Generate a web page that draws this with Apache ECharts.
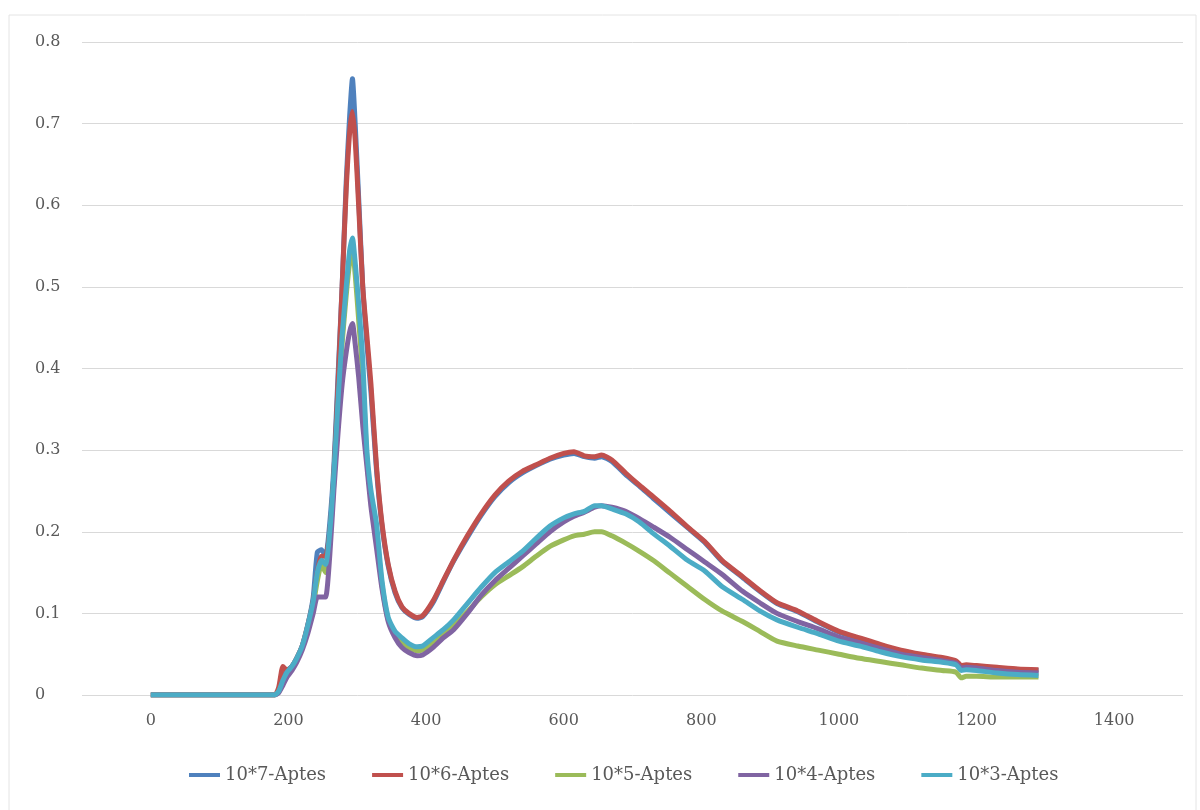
<!DOCTYPE html>
<html>
<head>
<meta charset="utf-8">
<title>Aptes absorbance spectra</title>
<script src="https://cdn.jsdelivr.net/npm/echarts@6/dist/echarts.min.js"></script>
<style>
  html, body { margin: 0; padding: 0; background: #ffffff; }
  #chart { width: 1200px; height: 810px; }
</style>
</head>
<body>
<div id="chart"></div>
<script>
// Wavelength sampling points shared by all five spectra
const wavelength = [0, 100, 180, 186, 192, 198, 205, 212, 220, 228, 236, 242, 248, 254, 260, 266, 272, 278, 284, 289, 293, 297, 302, 308, 314, 320, 328, 336, 345, 355, 365, 375, 387, 395, 410, 425, 440, 460, 480, 500, 520, 540, 560, 580, 600, 615, 630, 645, 655, 670, 690, 710, 730, 755, 780, 805, 830, 860, 885, 910, 940, 970, 1000, 1030, 1060, 1090, 1120, 1150, 1170, 1178, 1185, 1200, 1230, 1260, 1290];

const seriesNames = ['10*7-Aptes', '10*6-Aptes', '10*5-Aptes', '10*4-Aptes', '10*3-Aptes'];

const aptes7 = [0, 0, 0, 0.005, 0.02, 0.03, 0.035, 0.045, 0.06, 0.085, 0.12, 0.175, 0.178, 0.17, 0.21, 0.28, 0.39, 0.5, 0.63, 0.71, 0.755, 0.7, 0.61, 0.5, 0.43, 0.37, 0.275, 0.207, 0.158, 0.125, 0.107, 0.099, 0.094, 0.096, 0.113, 0.139, 0.164, 0.193, 0.22, 0.243, 0.26, 0.272, 0.281, 0.289, 0.294, 0.296, 0.292, 0.29, 0.292, 0.286, 0.27, 0.256, 0.241, 0.223, 0.205, 0.187, 0.164, 0.144, 0.127, 0.112, 0.102, 0.089, 0.077, 0.069, 0.061, 0.054, 0.049, 0.045, 0.041, 0.035, 0.036, 0.035, 0.033, 0.031, 0.03];
const aptes6 = [0, 0, 0, 0.01, 0.035, 0.03, 0.035, 0.045, 0.06, 0.085, 0.115, 0.15, 0.17, 0.17, 0.2, 0.27, 0.38, 0.5, 0.62, 0.69, 0.715, 0.68, 0.6, 0.5, 0.44, 0.38, 0.28, 0.21, 0.16, 0.127, 0.108, 0.1, 0.095, 0.097, 0.115, 0.14, 0.165, 0.195, 0.222, 0.245, 0.262, 0.274, 0.282, 0.29, 0.296, 0.298, 0.293, 0.292, 0.294, 0.288, 0.272, 0.257, 0.243, 0.225, 0.206, 0.188, 0.165, 0.145, 0.128, 0.113, 0.103, 0.09, 0.078, 0.07, 0.062, 0.055, 0.05, 0.046, 0.042, 0.036, 0.037, 0.036, 0.034, 0.032, 0.031];
const aptes5 = [0, 0, 0, 0.004, 0.015, 0.025, 0.032, 0.043, 0.058, 0.08, 0.11, 0.14, 0.16, 0.15, 0.19, 0.26, 0.35, 0.43, 0.49, 0.53, 0.545, 0.515, 0.46, 0.39, 0.29, 0.24, 0.195, 0.135, 0.092, 0.075, 0.064, 0.058, 0.054, 0.055, 0.063, 0.074, 0.085, 0.102, 0.12, 0.135, 0.146, 0.157, 0.17, 0.182, 0.19, 0.195, 0.197, 0.2, 0.2, 0.195, 0.186, 0.176, 0.165, 0.149, 0.133, 0.117, 0.103, 0.09, 0.078, 0.066, 0.06, 0.055, 0.05, 0.045, 0.041, 0.037, 0.033, 0.03, 0.028, 0.021, 0.023, 0.023, 0.022, 0.022, 0.022];
const aptes4 = [0, 0, 0, 0.003, 0.012, 0.022, 0.03, 0.04, 0.055, 0.075, 0.1, 0.12, 0.12, 0.12, 0.17, 0.25, 0.32, 0.38, 0.42, 0.445, 0.455, 0.43, 0.39, 0.33, 0.28, 0.23, 0.18, 0.13, 0.09, 0.07, 0.058, 0.052, 0.048, 0.049, 0.058, 0.07, 0.08, 0.1, 0.122, 0.14, 0.155, 0.17, 0.185, 0.2, 0.212, 0.219, 0.224, 0.23, 0.232, 0.23, 0.225, 0.216, 0.206, 0.193, 0.178, 0.163, 0.148, 0.127, 0.113, 0.1, 0.09, 0.081, 0.071, 0.064, 0.057, 0.05, 0.046, 0.042, 0.039, 0.033, 0.034, 0.033, 0.03, 0.028, 0.027];
const aptes3 = [0, 0, 0, 0.005, 0.018, 0.028, 0.035, 0.045, 0.06, 0.085, 0.115, 0.15, 0.165, 0.16, 0.2, 0.27, 0.36, 0.44, 0.5, 0.545, 0.56, 0.53, 0.48, 0.41, 0.3, 0.25, 0.21, 0.14, 0.095, 0.078, 0.07, 0.063, 0.059, 0.06, 0.07, 0.08, 0.092, 0.112, 0.132, 0.15, 0.163, 0.176, 0.192, 0.207, 0.217, 0.222, 0.225, 0.232, 0.232, 0.228, 0.222, 0.212, 0.198, 0.182, 0.165, 0.152, 0.133, 0.117, 0.103, 0.092, 0.083, 0.075, 0.066, 0.06, 0.053, 0.047, 0.043, 0.04, 0.037, 0.03, 0.031, 0.03, 0.027, 0.025, 0.024];

const xTickLabels = ['0', '200', '400', '600', '800', '1000', '1200', '1400'];
const colors = ['#4F81BD', '#C0504D', '#9BBB59', '#8064A2', '#4BACC6'];

const allValues = [aptes7, aptes6, aptes5, aptes4, aptes3];
const labelFont = 'DejaVu Serif';

const chart = echarts.init(document.getElementById('chart'), null, { renderer: 'canvas' });

chart.setOption({
  backgroundColor: '#ffffff',
  animation: false,
  color: colors,
  graphic: [{
    type: 'rect',
    shape: { x: 9, y: 15, width: 1187, height: 810 },
    style: { fill: 'none', stroke: '#e4e4e4', lineWidth: 1 },
    silent: true,
    z: -1
  }],
  grid: { left: 82, right: 17, top: 42, bottom: 115 },
  legend: {
    bottom: 21,
    left: 184,
    icon: 'rect',
    itemWidth: 31,
    itemHeight: 4,
    itemGap: 46,
    textStyle: { fontFamily: labelFont, fontSize: 18, color: '#595959' },
    data: seriesNames
  },
  xAxis: {
    type: 'value',
    min: -100,
    max: 1500,
    interval: 100,
    axisLine: { show: false },
    axisTick: { show: false },
    splitLine: { show: false },
    axisLabel: {
      margin: 18,
      fontFamily: labelFont,
      fontSize: 16,
      color: '#595959',
      formatter: function (v) {
        const i = xTickLabels.indexOf(String(v));
        return i >= 0 ? xTickLabels[i] : '';
      }
    }
  },
  yAxis: {
    type: 'value',
    min: 0,
    max: 0.8,
    interval: 0.1,
    axisLine: { show: false },
    axisTick: { show: false },
    splitLine: { lineStyle: { color: '#d9d9d9', width: 1 } },
    axisLabel: {
      align: 'left',
      margin: 47,
      fontFamily: labelFont,
      fontSize: 16,
      color: '#595959',
      formatter: function (v) { return String(+v.toFixed(1)); }
    }
  },
  series: seriesNames.map(function (name, k) {
    return {
      name: name,
      type: 'line',
      showSymbol: false,
      symbol: 'none',
      smooth: 0.2,
      lineStyle: { width: 5, color: colors[k] },
      data: wavelength.map(function (w, i) { return [w, allValues[k][i]]; })
    };
  })
});
</script>
</body>
</html>
